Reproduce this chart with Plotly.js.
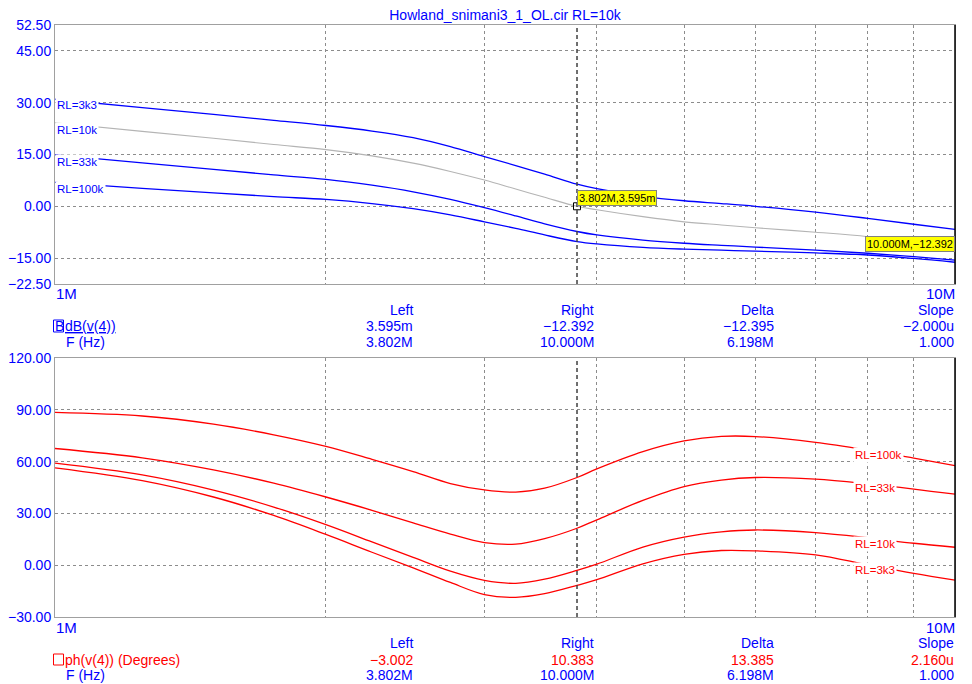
<!DOCTYPE html>
<html>
<head>
<meta charset="utf-8">
<script src="https://cdn.plot.ly/plotly-3.0.1.min.js"></script>
<style>
  html, body { margin: 0; padding: 0; background: #ffffff; }
  #plot { width: 972px; height: 684px; }
</style>
</head>
<body>
<div id="plot"></div>
<script>
// Frequency sweep points (MHz)
const freqMHz = [1, 1.25, 1.5, 1.75, 2, 2.25, 2.5, 2.75, 3, 3.25, 3.5, 3.802, 4, 4.5, 5, 5.5, 6, 7, 8, 9, 10];

// Gain dB(v(4)) per load resistor
const dB_RL3k3 = [31.0, 28.6, 26.6, 24.9, 23.4, 21.8, 19.9, 17.3, 14.4, 11.8, 9.3, 6.4, 5.1, 2.9, 1.6, 0.8, 0.0, -1.7, -3.5, -5.2, -6.7];
const dB_RL10k = [24.2, 21.7, 19.7, 17.9, 16.4, 14.6, 12.5, 10.1, 7.6, 5.0, 2.6, 0.003595, -1.0, -3.0, -4.5, -5.4, -6.2, -7.5, -8.8, -10.5, -12.392];
const dB_RL33k = [14.9, 12.6, 10.7, 9.1, 7.8, 6.1, 4.2, 2.0, -0.4, -2.8, -5.1, -7.3, -8.3, -9.8, -10.7, -11.3, -11.8, -12.7, -13.6, -14.6, -15.6];
const dB_RL100k = [6.9, 5.2, 3.9, 2.8, 2.0, 0.8, -0.7, -2.5, -4.5, -6.4, -8.3, -10.2, -10.9, -11.9, -12.4, -12.7, -13.0, -13.5, -14.1, -15.1, -16.2];

// Phase ph(v(4)) in degrees per load resistor
const ph_RL100k = [88.5, 86.4, 81.7, 75.5, 68.8, 61.3, 54.2, 47.3, 43.6, 42.3, 44.6, 50.8, 55.8, 65.8, 72.0, 74.6, 74.5, 71.1, 66.6, 62.0, 57.7];
const ph_RL33k = [67.6, 62.2, 55.2, 47.5, 39.5, 31.8, 24.5, 18.0, 13.1, 12.2, 15.4, 21.4, 26.3, 37.5, 45.5, 49.3, 50.8, 49.8, 47.1, 44.1, 41.1];
const ph_RL10k = [59.1, 52.3, 43.5, 33.7, 23.5, 13.5, 4.5, -3.5, -8.8, -10.5, -8.1, -3.002, 0.6, 10.5, 16.3, 19.3, 20.4, 18.9, 15.9, 12.7, 10.383];
const ph_RL3k3 = [56.4, 49.0, 39.5, 28.8, 17.8, 7.5, -1.5, -10.0, -17.0, -18.6, -16.5, -11.7, -8.4, 0.8, 6.3, 8.5, 8.3, 6.0, 0.2, -4.7, -8.6];

// Cursor readouts
const cursorHz = [3.802e6, 10e6];
const cursorDb = [3.595e-3, -12.392];
const cursorLabels = ['3.802M,3.595m', '10.000M,\u221212.392'];

// Axis ticks
const dbTicks = [-22.5, -15, 0, 15, 30, 45, 52.5];
const dbTickText = ['\u221222.50', '\u221215.00', '0.00', '15.00', '30.00', '45.00', '52.50'];
const phTicks = [-30, 0, 30, 60, 90, 120];
const phTickText = ['\u221230.00', '0.00', '30.00', '60.00', '90.00', '120.00'];
const gridHz = [1e6, 2e6, 3e6, 4e6, 5e6, 6e6, 7e6, 8e6, 9e6, 1e7];

// Cursor table text
const tableHeads = ['Left', 'Right', 'Delta', 'Slope'];
const dbRow = ['3.595m', '\u221212.392', '\u221212.395', '\u22122.000u'];
const phRow = ['\u22123.002', '10.383', '13.385', '2.160u'];
const freqRow = ['3.802M', '10.000M', '6.198M', '1.000'];

const freq = freqMHz.map(f => f * 1e6);
const BLUE = '#0000ff', RED = '#ff0000', GRAY = '#b4b4b4';
const FONT = 'Liberation Sans, Arial, sans-serif';

// pixel helpers for the paper coordinate system (plot area 55..955 x 25..617)
const px = x => (x - 55) / 900;
const py = y => (617 - y) / 592;

const line = (y, color, w, xa, ya) => ({
  x: freq, y: y, type: 'scatter', mode: 'lines',
  line: { color: color, width: w, shape: 'spline', smoothing: 1 },
  xaxis: xa, yaxis: ya, hoverinfo: 'skip'
});

const traces = [
  line(dB_RL100k, BLUE, 1.3, 'x', 'y'),
  line(dB_RL33k, BLUE, 1.3, 'x', 'y'),
  line(dB_RL10k, GRAY, 1.1, 'x', 'y'),
  line(dB_RL3k3, BLUE, 1.3, 'x', 'y'),
  line(ph_RL100k, RED, 1.3, 'x2', 'y2'),
  line(ph_RL33k, RED, 1.3, 'x2', 'y2'),
  line(ph_RL10k, RED, 1.3, 'x2', 'y2'),
  line(ph_RL3k3, RED, 1.3, 'x2', 'y2'),
  {
    x: [cursorHz[0]], y: [cursorDb[0]], type: 'scatter', mode: 'markers',
    marker: { symbol: 'square-open', size: 7, color: '#000000', line: { width: 1, color: '#000000' } },
    xaxis: 'x', yaxis: 'y', hoverinfo: 'skip'
  }
];

const xCommon = {
  type: 'log', range: [6, 7], tickvals: gridHz, showticklabels: false, ticks: '',
  showgrid: true, gridcolor: '#8c8c8c', gridwidth: 1, griddash: '3px,3px',
  showline: true, linecolor: '#a0a0a0', linewidth: 1, mirror: true, zeroline: false
};
const yCommon = {
  tickmode: 'array', ticks: '', showgrid: true, gridcolor: '#8c8c8c', gridwidth: 1, griddash: '3px,3px',
  showline: true, linecolor: '#a0a0a0', linewidth: 1, mirror: true, zeroline: false,
  tickfont: { family: FONT, size: 14, color: BLUE }
};

const ann = [];
const txt = (x, y, text, color, anchor, size) => ann.push({
  xref: 'paper', yref: 'paper', x: px(x), y: py(y), text: text, showarrow: false,
  xanchor: anchor, yanchor: 'middle', font: { family: FONT, size: size || 14, color: color }, borderpad: 0
});

// frequency end labels
txt(55, 293, '1M', BLUE, 'left', 15);
txt(956, 293, '10M', BLUE, 'right', 15);
txt(55, 627, '1M', BLUE, 'left', 15);
txt(956, 627, '10M', BLUE, 'right', 15);

// cursor tables
const colRight = [414, 595, 775, 955];
tableHeads.forEach((t, i) => { txt(colRight[i], 310, t, BLUE, 'right'); txt(colRight[i], 643, t, BLUE, 'right'); });
dbRow.forEach((t, i) => txt(colRight[i], 326, t, BLUE, 'right'));
freqRow.forEach((t, i) => { txt(colRight[i], 342, t, BLUE, 'right'); txt(colRight[i], 675, t, BLUE, 'right'); });
phRow.forEach((t, i) => txt(colRight[i], 660, t, RED, 'right'));
txt(54, 326, 'B', BLUE, 'left');
txt(64, 326, '<u>dB(v(4))</u>', BLUE, 'left');
txt(65, 342, 'F (Hz)', BLUE, 'left');
txt(64, 660, 'ph(v(4)) (Degrees)', RED, 'left');
txt(65, 675, 'F (Hz)', BLUE, 'left');

// curve name tags
const tag = (xHz, y, text, color, xa, ya) => ann.push({
  xref: xa, yref: ya, x: Math.log10(xHz), y: y, text: text, showarrow: false,
  xanchor: 'left', yanchor: 'middle', bgcolor: '#ffffff', borderpad: 1,
  font: { family: FONT, size: 11.5, color: color }
});
tag(1e6, 29.2, 'RL=3k3', BLUE, 'x', 'y');
tag(1e6, 22.2, 'RL=10k', BLUE, 'x', 'y');
tag(1e6, 12.7, 'RL=33k', BLUE, 'x', 'y');
tag(1e6, 4.9, 'RL=100k', BLUE, 'x', 'y');
tag(7.7e6, 63.9, 'RL=100k', RED, 'x2', 'y2');
tag(7.7e6, 44.8, 'RL=33k', RED, 'x2', 'y2');
tag(7.7e6, 12.5, 'RL=10k', RED, 'x2', 'y2');
tag(7.7e6, -2.5, 'RL=3k3', RED, 'x2', 'y2');

// cursor value boxes
ann.push({
  xref: 'x', yref: 'y', x: Math.log10(cursorHz[0]), y: cursorDb[0], text: cursorLabels[0],
  showarrow: false, xanchor: 'left', yanchor: 'bottom', bgcolor: '#ffff00',
  bordercolor: '#808080', borderwidth: 1, borderpad: 1,
  font: { family: FONT, size: 11, color: '#000000' }
});
ann.push({
  xref: 'x', yref: 'y', x: Math.log10(cursorHz[1]), y: cursorDb[1], text: cursorLabels[1],
  showarrow: false, xanchor: 'right', yanchor: 'middle', yshift: 4.6, bgcolor: '#ffff00',
  bordercolor: '#808080', borderwidth: 1, borderpad: 1,
  font: { family: FONT, size: 11, color: '#000000' }
});

const shapes = [
  // cursor line through both plots
  { type: 'line', xref: 'x', yref: 'y domain', x0: cursorHz[0], x1: cursorHz[0], y0: 0, y1: 1,
    line: { color: '#404040', width: 1.5, dash: '4px,3px' } },
  { type: 'line', xref: 'x2', yref: 'y2 domain', x0: cursorHz[0], x1: cursorHz[0], y0: 0, y1: 1,
    line: { color: '#404040', width: 1.5, dash: '4px,3px' } },
  // dark right frame edges
  { type: 'line', xref: 'paper', yref: 'paper', x0: 1, x1: 1, y0: py(284), y1: 1, line: { color: '#000000', width: 1.5 } },
  { type: 'line', xref: 'paper', yref: 'paper', x0: 1, x1: 1, y0: 0, y1: py(358), line: { color: '#000000', width: 1.5 } },
  // legend boxes
  { type: 'rect', xref: 'paper', yref: 'paper', x0: px(53.5), x1: px(63.5), y0: py(332), y1: py(320),
    line: { color: BLUE, width: 1 } },
  { type: 'rect', xref: 'paper', yref: 'paper', x0: px(53.5), x1: px(63.5), y0: py(665), y1: py(654),
    line: { color: RED, width: 1 } }
];

const layout = {
  width: 972, height: 684,
  margin: { l: 55, r: 17, t: 25, b: 67 },
  paper_bgcolor: '#ffffff', plot_bgcolor: '#ffffff',
  showlegend: false,
  font: { family: FONT, size: 14, color: BLUE },
  title: {
    text: 'Howland_snimani3_1_OL.cir RL=10k', xref: 'paper', x: 0.5, xanchor: 'center',
    yref: 'container', y: 1 - 15 / 684, yanchor: 'middle',
    font: { family: FONT, size: 14, color: BLUE }
  },
  xaxis: Object.assign({}, xCommon, { anchor: 'y', domain: [0, 1] }),
  yaxis: Object.assign({}, yCommon, { domain: [333 / 592, 1], range: [-22.5, 52.5], tickvals: dbTicks, ticktext: dbTickText }),
  xaxis2: Object.assign({}, xCommon, { anchor: 'y2', domain: [0, 1] }),
  yaxis2: Object.assign({}, yCommon, { domain: [0, 259 / 592], range: [-30, 120], tickvals: phTicks, ticktext: phTickText }),
  annotations: ann,
  shapes: shapes
};

Plotly.newPlot('plot', traces, layout, { staticPlot: true, displayModeBar: false });
</script>
</body>
</html>
